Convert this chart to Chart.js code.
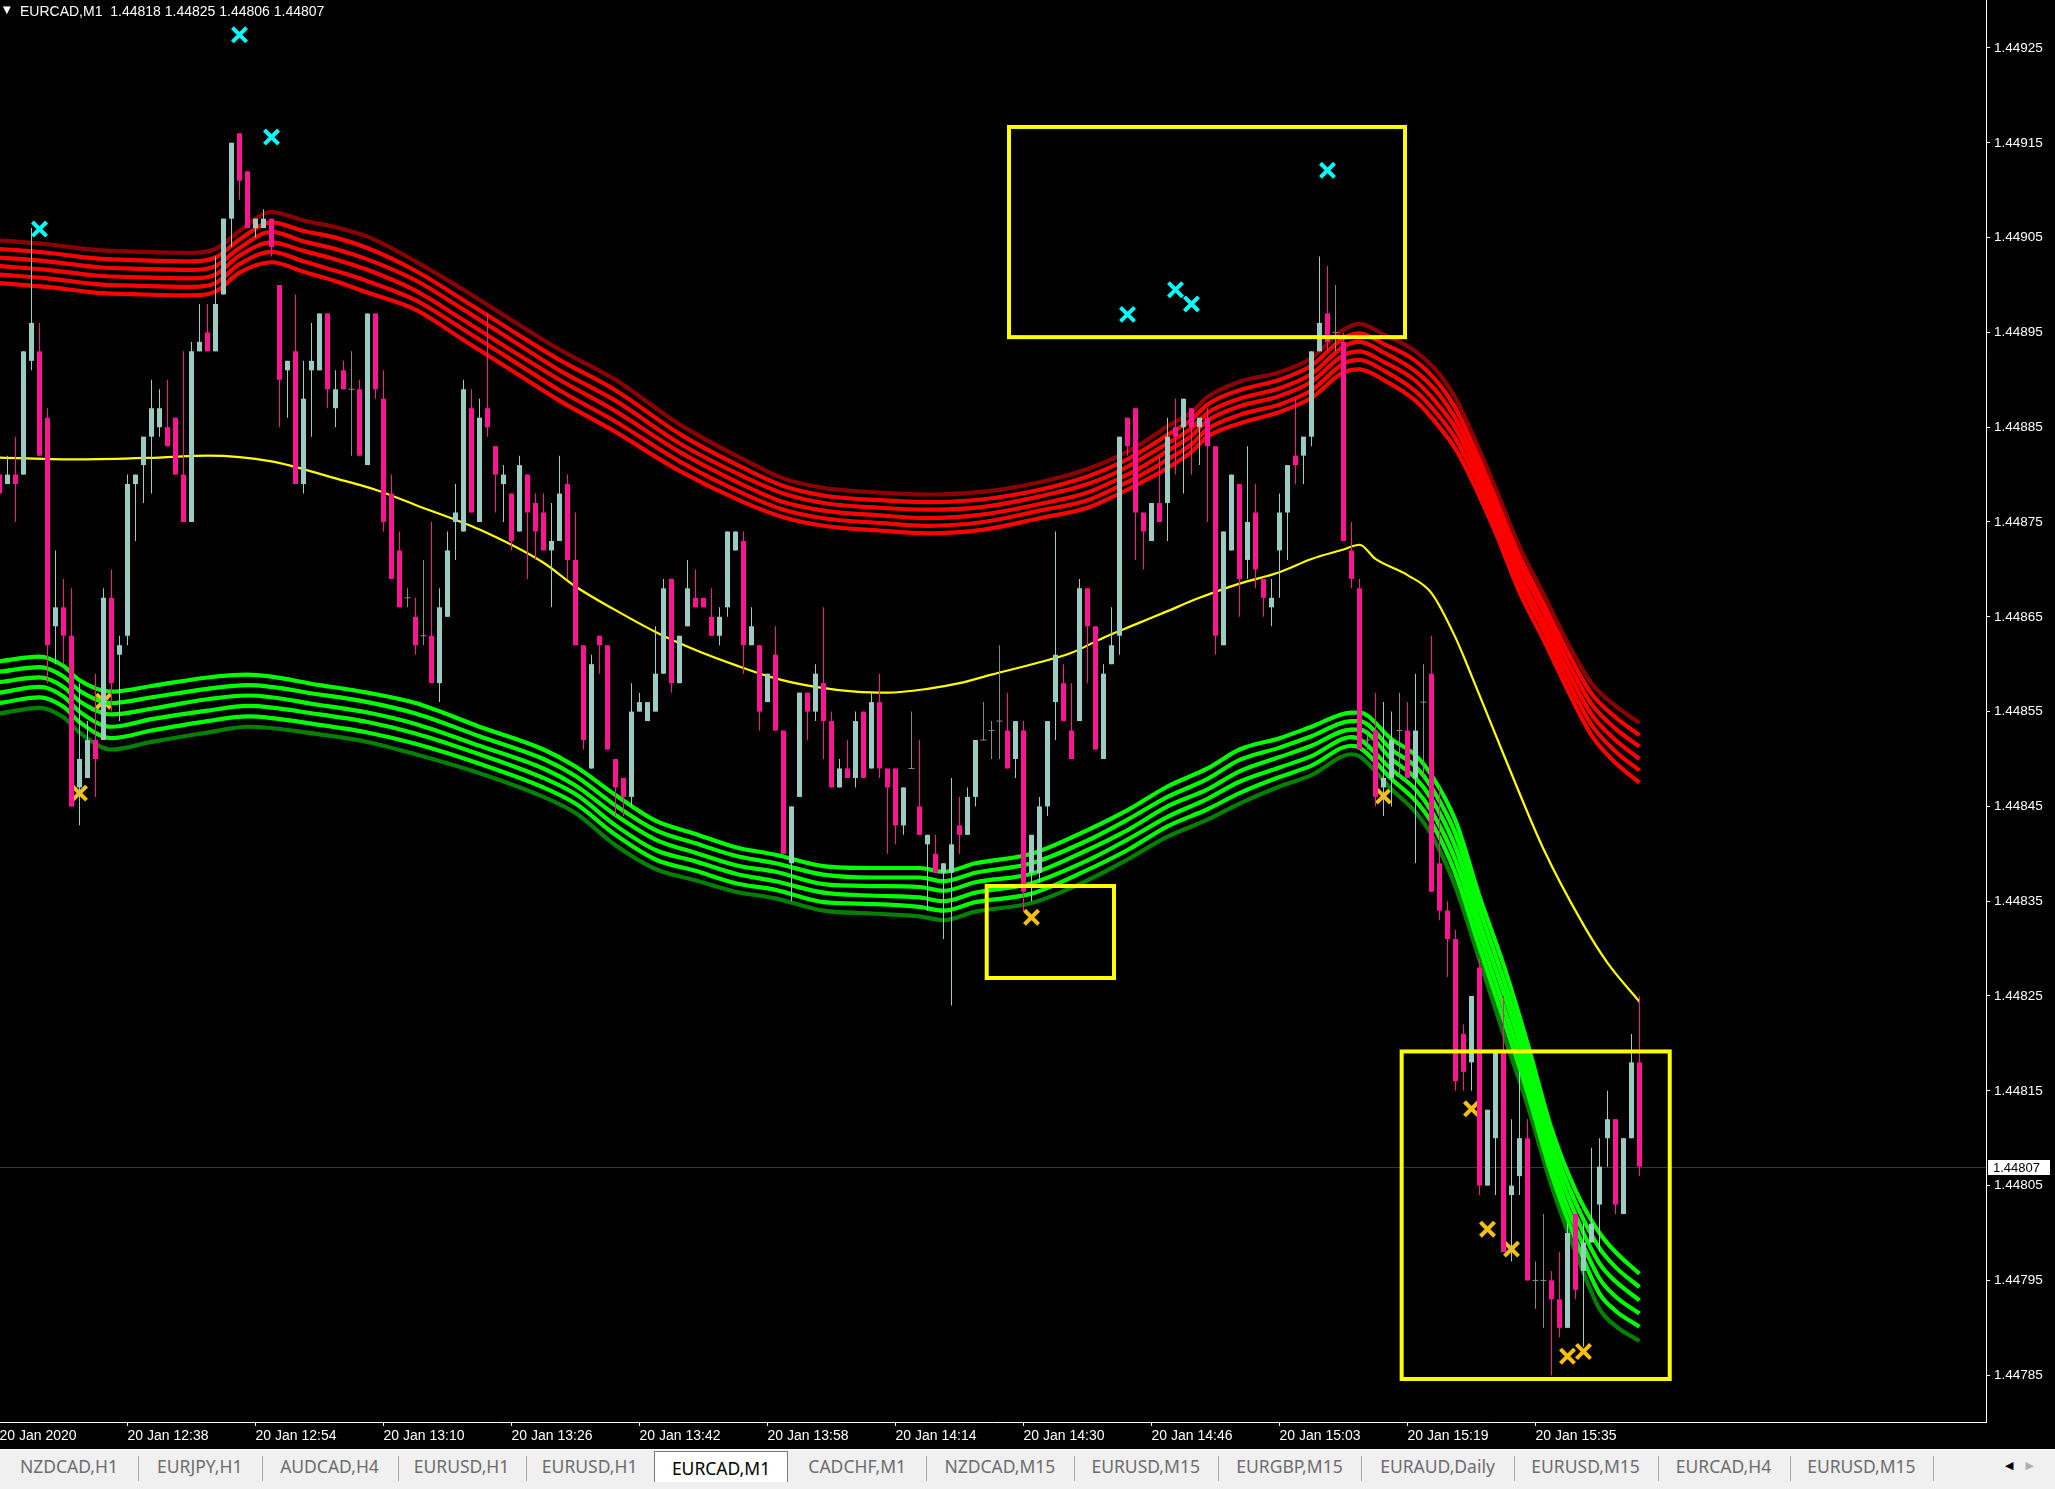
<!DOCTYPE html>
<html>
<head>
<meta charset="utf-8">
<title>EURCAD,M1</title>
<script src="https://cdn.jsdelivr.net/npm/chart.js@4.4.1/dist/chart.umd.min.js"></script>
<style>
  html, body { margin:0; padding:0; background:#000; }
  body { width:2055px; height:1489px; position:relative; overflow:hidden; }
  #chartBox { position:absolute; left:0; top:0; width:2055px; height:1450px; }
  #tri { position:absolute; left:3px; top:4px; color:#fff; font:10px "DejaVu Sans", sans-serif; }
  #hdr { position:absolute; left:20px; top:3px; color:#fff; font:14px "Liberation Sans", Arial, sans-serif; white-space:pre; line-height:17px; }
  #tabs { position:absolute; left:0; top:1449px; width:2055px; height:40px; background:#f0f0f0; border-top:1px solid #ffffff; }
  .tab { position:absolute; top:4px; height:28px; line-height:28px; text-align:center; font:17.5px "Noto Sans", "Open Sans", sans-serif; color:#6d6d6d; white-space:nowrap; }
  .tab.active { top:1px; height:31px; line-height:33px; background:#ffffff; border:1px solid #7c7c7c; border-bottom:none; color:#000; box-sizing:border-box; }
  .sep { position:absolute; top:6px; width:1px; height:25px; background:#a9a9a9; }
  #arrows { position:absolute; right:9px; top:9px; font:11px "DejaVu Sans", sans-serif; color:#000; letter-spacing:12px; }
</style>
</head>
<body>
<div id="chartBox"><canvas id="c" width="2055" height="1450"></canvas></div>
<div id="tri">▼</div>
<div id="hdr"></div>
<div id="tabs"></div>
<script>
// ---------------- DATA ----------------
const symbolLabel = 'EURCAD,M1';
const timeLabels = ['20 Jan 2020','20 Jan 12:38','20 Jan 12:54','20 Jan 13:10','20 Jan 13:26','20 Jan 13:42','20 Jan 13:58','20 Jan 14:14','20 Jan 14:30','20 Jan 14:46','20 Jan 15:03','20 Jan 15:19','20 Jan 15:35'];
const timeTickBars = [0,16,32,48,64,80,96,112,128,144,160,176,192];
const priceTickLabels = ['1.44925','1.44915','1.44905','1.44895','1.44885','1.44875','1.44865','1.44855','1.44845','1.44835','1.44825','1.44815','1.44805','1.44795','1.44785'];

const openP = [
1.44880,1.44879,1.44880,1.44880,1.44892,1.44893,1.44886,1.44864,1.44866,1.44863,
1.44847,1.44848,1.44852,1.44852,1.44867,1.44861,1.44863,1.44879,1.44881,1.44884,
1.44885,1.44885,1.44886,1.44880,1.44875,1.44893,1.44895,1.44893,1.44899,1.44907,
1.44916,1.44912,1.44906,1.44906,1.44907,1.44900,1.44891,1.44893,1.44879,1.44891,
1.44891,1.44897,1.44887,1.44891,1.44889,1.44889,1.44881,1.44897,1.44888,1.44878,
1.44872,1.44867,1.44865,1.44863,1.44863,1.44858,1.44865,1.44875,1.44874,1.44887,
1.44875,1.44887,1.44883,1.44879,1.44878,1.44874,1.44880,1.44877,1.44876,1.44872,
1.44873,1.44879,1.44871,1.44862,1.44849,1.44863,1.44862,1.44850,1.44848,1.44846,
1.44855,1.44854,1.44855,1.44859,1.44869,1.44858,1.44864,1.44867,1.44867,1.44865,
1.44863,1.44866,1.44872,1.44873,1.44862,1.44862,1.44856,1.44861,1.44853,1.44839,
1.44846,1.44857,1.44855,1.44858,1.44854,1.44847,1.44849,1.44848,1.44855,1.44849,
1.44856,1.44849,1.44849,1.44843,1.44849,1.44845,1.44841,1.44840,1.44838,1.44838,
1.44843,1.44842,1.44846,1.44852,1.44853,1.44854,1.44853,1.44850,1.44853,1.44838,
1.44838,1.44845,1.44856,1.44858,1.44853,1.44854,1.44868,1.44864,1.44850,1.44860,
1.44863,1.44886,1.44887,1.44876,1.44873,1.44877,1.44877,1.44885,1.44885,1.44887,
1.44885,1.44886,1.44883,1.44862,1.44872,1.44879,1.44871,1.44876,1.44869,1.44866,
1.44872,1.44876,1.44882,1.44882,1.44884,1.44893,1.44897,1.44895,1.44894,1.44872,
1.44868,1.44852,1.44853,1.44847,1.44848,1.44853,1.44853,1.44848,1.44856,1.44859,
1.44839,1.44834,1.44831,1.44821,1.44818,1.44828,1.44805,1.44810,1.44819,1.44804,
1.44806,1.44810,1.44795,1.44795,1.44795,1.44793,1.44790,1.44802,1.44796,1.44799,
1.44803,1.44810,1.44812,1.44802,1.44810,1.44818];

const highP = [
1.44881,1.44882,1.44884,1.44893,1.44906,1.44896,1.44887,1.44872,1.44869,1.44868,
1.44858,1.44854,1.44859,1.44868,1.44870,1.44863,1.44880,1.44880,1.44884,1.44890,
1.44889,1.44890,1.44886,1.44893,1.44894,1.44898,1.44898,1.44903,1.44907,1.44915,
1.44916,1.44912,1.44907,1.44908,1.44907,1.44900,1.44892,1.44899,1.44892,1.44896,
1.44897,1.44897,1.44891,1.44892,1.44893,1.44890,1.44897,1.44897,1.44891,1.44880,
1.44874,1.44868,1.44867,1.44871,1.44875,1.44868,1.44874,1.44879,1.44890,1.44889,
1.44888,1.44897,1.44883,1.44881,1.44878,1.44882,1.44880,1.44878,1.44878,1.44877,
1.44882,1.44880,1.44876,1.44862,1.44861,1.44863,1.44862,1.44850,1.44848,1.44858,
1.44857,1.44856,1.44864,1.44869,1.44869,1.44863,1.44871,1.44870,1.44867,1.44868,
1.44866,1.44874,1.44874,1.44874,1.44866,1.44862,1.44859,1.44864,1.44853,1.44845,
1.44857,1.44857,1.44860,1.44866,1.44855,1.44850,1.44852,1.44855,1.44855,1.44857,
1.44859,1.44849,1.44849,1.44847,1.44855,1.44852,1.44842,1.44842,1.44839,1.44848,
1.44846,1.44847,1.44852,1.44856,1.44854,1.44862,1.44857,1.44854,1.44854,1.44842,
1.44846,1.44854,1.44874,1.44860,1.44858,1.44869,1.44868,1.44864,1.44860,1.44866,
1.44884,1.44886,1.44887,1.44876,1.44877,1.44882,1.44886,1.44888,1.44888,1.44887,
1.44886,1.44887,1.44883,1.44874,1.44880,1.44879,1.44883,1.44879,1.44869,1.44869,
1.44878,1.44881,1.44888,1.44884,1.44893,1.44903,1.44902,1.44900,1.44895,1.44875,
1.44869,1.44853,1.44857,1.44856,1.44855,1.44857,1.44856,1.44859,1.44860,1.44863,
1.44847,1.44835,1.44832,1.44822,1.44825,1.44829,1.44813,1.44819,1.44825,1.44812,
1.44817,1.44812,1.44797,1.44802,1.44796,1.44798,1.44801,1.44802,1.44801,1.44809,
1.44810,1.44815,1.44812,1.44810,1.44821,1.44825];

const lowP = [
1.44877,1.44879,1.44875,1.44880,1.44891,1.44882,1.44858,1.44860,1.44860,1.44845,
1.44843,1.44848,1.44846,1.44852,1.44855,1.44854,1.44862,1.44873,1.44877,1.44878,
1.44884,1.44883,1.44880,1.44875,1.44875,1.44893,1.44893,1.44893,1.44899,1.44904,
1.44909,1.44906,1.44905,1.44906,1.44903,1.44885,1.44886,1.44879,1.44878,1.44884,
1.44891,1.44887,1.44885,1.44889,1.44882,1.44882,1.44881,1.44888,1.44874,1.44869,
1.44866,1.44866,1.44861,1.44862,1.44858,1.44856,1.44865,1.44871,1.44874,1.44876,
1.44875,1.44884,1.44876,1.44875,1.44872,1.44874,1.44869,1.44871,1.44872,1.44866,
1.44873,1.44869,1.44862,1.44851,1.44849,1.44859,1.44851,1.44844,1.44844,1.44845,
1.44855,1.44854,1.44855,1.44859,1.44857,1.44858,1.44864,1.44866,1.44866,1.44863,
1.44862,1.44865,1.44872,1.44859,1.44862,1.44853,1.44856,1.44853,1.44840,1.44835,
1.44846,1.44852,1.44854,1.44850,1.44847,1.44847,1.44848,1.44847,1.44848,1.44849,
1.44848,1.44840,1.44841,1.44842,1.44849,1.44842,1.44834,1.44838,1.44831,1.44824,
1.44840,1.44842,1.44845,1.44852,1.44850,1.44850,1.44849,1.44848,1.44834,1.44835,
1.44837,1.44844,1.44852,1.44854,1.44850,1.44854,1.44858,1.44851,1.44850,1.44860,
1.44861,1.44882,1.44871,1.44870,1.44873,1.44875,1.44873,1.44880,1.44878,1.44880,
1.44881,1.44875,1.44861,1.44862,1.44872,1.44865,1.44869,1.44868,1.44865,1.44864,
1.44867,1.44871,1.44879,1.44879,1.44883,1.44893,1.44893,1.44893,1.44873,1.44868,
1.44851,1.44851,1.44845,1.44844,1.44845,1.44848,1.44848,1.44839,1.44848,1.44836,
1.44833,1.44827,1.44815,1.44815,1.44815,1.44804,1.44805,1.44804,1.44798,1.44797,
1.44804,1.44795,1.44792,1.44790,1.44785,1.44789,1.44790,1.44793,1.44788,1.44799,
1.44798,1.44807,1.44802,1.44802,1.44810,1.44806];

const closeP = [
1.44878,1.44880,1.44879,1.44893,1.44896,1.44882,1.44862,1.44866,1.44863,1.44845,
1.44850,1.44852,1.44850,1.44867,1.44858,1.44862,1.44879,1.44880,1.44884,1.44887,
1.44887,1.44883,1.44880,1.44875,1.44893,1.44894,1.44893,1.44898,1.44907,1.44915,
1.44911,1.44906,1.44907,1.44907,1.44904,1.44890,1.44892,1.44879,1.44888,1.44892,
1.44897,1.44889,1.44889,1.44889,1.44889,1.44882,1.44897,1.44889,1.44875,1.44869,
1.44866,1.44867,1.44862,1.44863,1.44858,1.44866,1.44872,1.44876,1.44889,1.44876,
1.44886,1.44885,1.44880,1.44880,1.44873,1.44881,1.44876,1.44874,1.44872,1.44873,
1.44878,1.44871,1.44862,1.44852,1.44860,1.44862,1.44851,1.44847,1.44846,1.44855,
1.44856,1.44856,1.44859,1.44868,1.44858,1.44863,1.44868,1.44866,1.44866,1.44863,
1.44865,1.44874,1.44874,1.44862,1.44864,1.44855,1.44859,1.44853,1.44840,1.44845,
1.44857,1.44855,1.44859,1.44854,1.44847,1.44849,1.44848,1.44854,1.44848,1.44856,
1.44849,1.44847,1.44843,1.44847,1.44849,1.44842,1.44842,1.44838,1.44839,1.44841,
1.44842,1.44846,1.44852,1.44852,1.44853,1.44854,1.44849,1.44854,1.44836,1.44842,
1.44845,1.44854,1.44861,1.44854,1.44850,1.44868,1.44864,1.44851,1.44859,1.44862,
1.44884,1.44883,1.44876,1.44874,1.44877,1.44875,1.44884,1.44884,1.44888,1.44885,
1.44886,1.44883,1.44863,1.44874,1.44880,1.44869,1.44875,1.44870,1.44867,1.44867,
1.44876,1.44881,1.44881,1.44884,1.44893,1.44896,1.44894,1.44895,1.44873,1.44869,
1.44851,1.44852,1.44846,1.44848,1.44852,1.44853,1.44848,1.44853,1.44856,1.44836,
1.44834,1.44831,1.44816,1.44817,1.44825,1.44805,1.44813,1.44819,1.44798,1.44805,
1.44810,1.44795,1.44795,1.44795,1.44793,1.44790,1.44800,1.44794,1.44799,1.44801,
1.44807,1.44812,1.44803,1.44810,1.44818,1.44807];

// moving-average line (yellow)
const yellowBars = [0,10,20,26,34,42,47,52,60,68,72,77,82,87,92,97,102,107,111,116,120,124,130,134,138,142,146,150,155,160,164,168,170,172,176,179,182,184,188,193,198,201,205];
const yellowVals = [1.448818,1.448816,1.448818,1.448820,1.448814,1.448796,1.448784,1.448768,1.448742,1.448707,1.448682,1.448657,1.448634,1.448615,1.448599,1.448585,1.448576,1.448571,1.448570,1.448574,1.448580,1.448589,1.448602,1.448612,1.448628,1.448642,1.448656,1.448670,1.448685,1.448697,1.448711,1.448721,1.448726,1.448711,1.448694,1.448675,1.448628,1.448588,1.448505,1.448405,1.448325,1.448285,1.448244];

// upper (red) band lines, top to bottom
const redBars = [0,6,12,18,24,27,30,34,38,42,46,52,58,64,70,77,85,93,98,103,110,116,123,130,136,140,143,146,149,151,155,160,164,168,170,173,177,180,182,184,187,190,193,196,199,202,205];
const redLine0 = [1.449047,1.449043,1.449037,1.449035,1.449034,1.449038,1.449057,1.449077,1.449068,1.449061,1.449051,1.449025,1.448995,1.448963,1.448932,1.448900,1.448853,1.448816,1.448796,1.448786,1.448781,1.448779,1.448782,1.448792,1.448806,1.448820,1.448834,1.448851,1.448866,1.448882,1.448898,1.448908,1.448923,1.448953,1.448959,1.448948,1.448930,1.448906,1.448881,1.448845,1.448786,1.448724,1.448674,1.448623,1.448580,1.448556,1.448538];
const redLine1 = [1.449038,1.449034,1.449028,1.449026,1.449025,1.449029,1.449048,1.449066,1.449057,1.449050,1.449039,1.449015,1.448984,1.448952,1.448921,1.448889,1.448843,1.448807,1.448788,1.448778,1.448773,1.448771,1.448774,1.448784,1.448798,1.448812,1.448826,1.448842,1.448858,1.448874,1.448889,1.448900,1.448915,1.448944,1.448949,1.448938,1.448920,1.448895,1.448870,1.448835,1.448777,1.448714,1.448664,1.448613,1.448569,1.448544,1.448525];
const redLine2 = [1.449029,1.449025,1.449019,1.449017,1.449016,1.449020,1.449039,1.449056,1.449046,1.449038,1.449027,1.449005,1.448974,1.448942,1.448910,1.448878,1.448833,1.448798,1.448780,1.448770,1.448765,1.448763,1.448766,1.448777,1.448790,1.448804,1.448818,1.448833,1.448849,1.448865,1.448880,1.448891,1.448906,1.448935,1.448940,1.448929,1.448909,1.448884,1.448859,1.448825,1.448767,1.448705,1.448655,1.448603,1.448558,1.448532,1.448513];
const redLine3 = [1.449020,1.449016,1.449010,1.449008,1.449007,1.449011,1.449031,1.449045,1.449036,1.449027,1.449016,1.448994,1.448963,1.448931,1.448900,1.448867,1.448824,1.448789,1.448771,1.448762,1.448757,1.448754,1.448758,1.448769,1.448781,1.448796,1.448809,1.448825,1.448841,1.448857,1.448872,1.448883,1.448898,1.448926,1.448930,1.448919,1.448899,1.448872,1.448849,1.448815,1.448758,1.448695,1.448645,1.448593,1.448547,1.448520,1.448500];
const redLine4 = [1.449011,1.449007,1.449001,1.448999,1.448998,1.449002,1.449022,1.449035,1.449025,1.449015,1.449004,1.448984,1.448953,1.448921,1.448889,1.448856,1.448814,1.448780,1.448763,1.448754,1.448749,1.448746,1.448750,1.448762,1.448773,1.448788,1.448801,1.448816,1.448832,1.448848,1.448863,1.448874,1.448889,1.448917,1.448921,1.448910,1.448888,1.448861,1.448838,1.448805,1.448748,1.448686,1.448636,1.448583,1.448536,1.448508,1.448488];
const redLine5 = [1.449002,1.448998,1.448992,1.448990,1.448989,1.448993,1.449013,1.449024,1.449014,1.449004,1.448992,1.448974,1.448942,1.448910,1.448878,1.448845,1.448804,1.448771,1.448755,1.448746,1.448741,1.448738,1.448742,1.448754,1.448765,1.448780,1.448793,1.448807,1.448824,1.448840,1.448854,1.448866,1.448881,1.448908,1.448911,1.448900,1.448878,1.448850,1.448827,1.448795,1.448739,1.448676,1.448626,1.448573,1.448525,1.448496,1.448475];

// lower (green) band lines, top to bottom
const greenBars = [0,5,8,10,14,19,26,31,40,46,52,60,68,72,77,82,87,92,97,103,109,115,118,122,129,136,141,146,151,155,160,164,169,170,174,177,179,182,185,188,191,194,197,200,202,205];
const greenLine0 = [1.448603,1.448608,1.448598,1.448583,1.448571,1.448577,1.448586,1.448589,1.448578,1.448570,1.448559,1.448534,1.448510,1.448492,1.448462,1.448435,1.448421,1.448407,1.448399,1.448387,1.448385,1.448385,1.448381,1.448390,1.448400,1.448425,1.448446,1.448471,1.448490,1.448510,1.448522,1.448534,1.448549,1.448549,1.448521,1.448504,1.448483,1.448435,1.448355,1.448283,1.448200,1.448110,1.448045,1.448000,1.447980,1.447957];
const greenLine1 = [1.448592,1.448597,1.448587,1.448572,1.448559,1.448565,1.448574,1.448578,1.448568,1.448560,1.448548,1.448524,1.448500,1.448482,1.448451,1.448425,1.448411,1.448398,1.448390,1.448378,1.448375,1.448375,1.448371,1.448380,1.448390,1.448414,1.448436,1.448460,1.448479,1.448499,1.448512,1.448524,1.448540,1.448540,1.448510,1.448492,1.448470,1.448421,1.448342,1.448268,1.448187,1.448098,1.448032,1.447984,1.447964,1.447943];
const greenLine2 = [1.448581,1.448586,1.448576,1.448561,1.448547,1.448553,1.448563,1.448567,1.448557,1.448549,1.448537,1.448514,1.448490,1.448472,1.448441,1.448415,1.448401,1.448388,1.448381,1.448368,1.448366,1.448365,1.448361,1.448370,1.448379,1.448404,1.448425,1.448450,1.448468,1.448487,1.448502,1.448514,1.448531,1.448531,1.448500,1.448480,1.448458,1.448407,1.448328,1.448254,1.448174,1.448086,1.448019,1.447968,1.447949,1.447929];
const greenLine3 = [1.448570,1.448576,1.448566,1.448550,1.448534,1.448542,1.448551,1.448556,1.448547,1.448539,1.448527,1.448505,1.448480,1.448463,1.448430,1.448404,1.448392,1.448379,1.448371,1.448359,1.448356,1.448354,1.448350,1.448359,1.448369,1.448393,1.448415,1.448439,1.448458,1.448476,1.448491,1.448503,1.448523,1.448521,1.448489,1.448468,1.448445,1.448393,1.448315,1.448239,1.448161,1.448074,1.448006,1.447952,1.447933,1.447915];
const greenLine4 = [1.448559,1.448565,1.448555,1.448539,1.448522,1.448530,1.448540,1.448545,1.448536,1.448528,1.448516,1.448495,1.448470,1.448453,1.448420,1.448394,1.448382,1.448369,1.448362,1.448349,1.448347,1.448344,1.448340,1.448349,1.448358,1.448383,1.448404,1.448429,1.448447,1.448464,1.448481,1.448493,1.448514,1.448512,1.448479,1.448456,1.448433,1.448379,1.448301,1.448225,1.448148,1.448062,1.447993,1.447936,1.447918,1.447901];
const greenLine5 = [1.448548,1.448554,1.448544,1.448528,1.448510,1.448518,1.448528,1.448534,1.448526,1.448518,1.448505,1.448485,1.448460,1.448443,1.448409,1.448384,1.448372,1.448360,1.448353,1.448340,1.448337,1.448334,1.448330,1.448339,1.448348,1.448372,1.448394,1.448418,1.448436,1.448453,1.448471,1.448483,1.448505,1.448503,1.448468,1.448444,1.448420,1.448365,1.448288,1.448210,1.448135,1.448050,1.447980,1.447920,1.447902,1.447886];

// signal markers
const cyanBars = [5,30,34,141,147,149,166];
const cyanPrices = [1.449059,1.449264,1.449156,1.448969,1.448995,1.448980,1.449121];
const orangeBars = [10,13,129,173,184,186,189,196,198];
const orangePrices = [1.448464,1.448561,1.448333,1.448461,1.448131,1.448004,1.447983,1.447870,1.447875];

// highlight boxes (bar index / price)
const boxFromBar = [126.19,123.40,175.27];
const boxToBar   = [175.69,139.31,208.78];
const boxTopPrice    = [1.4491667,1.448366,1.4481915];
const boxBottomPrice = [1.448945,1.448269,1.447846];

// terminal tabs
const tabNames = ['NZDCAD,H1','EURJPY,H1','AUDCAD,H4','EURUSD,H1','EURUSD,H1','EURCAD,M1','CADCHF,M1','NZDCAD,M15','EURUSD,M15','EURGBP,M15','EURAUD,Daily','EURUSD,M15','EURCAD,H4','EURUSD,M15'];
const activeTab = 5;

// ---------------- LAYOUT / STYLE ----------------
const tabEdges = [0,138,261.5,397.5,525.6,653.7,788.4,926,1073.8,1217.6,1361.4,1513.7,1657.5,1789.5,1933.3];
const BULL = '#9ccbc4', BEAR = '#ff1493', DOJI = '#8a8a8a';
const X_MIN = 0.0625, X_MAX = 0.0625 + 1986 / 8;
const Y_MIN = 1.44780063, Y_MAX = 1.44930063;
const BAND_W = 4.2;

// header
const nLast = closeP.length - 1;
document.getElementById('hdr').textContent = symbolLabel + '  ' + [openP[nLast], highP[nLast], lowP[nLast], closeP[nLast]].map(v => v.toFixed(5)).join(' ');

// tabs
(function () {
  const bar = document.getElementById('tabs');
  for (let i = 0; i < tabNames.length; i++) {
    const d = document.createElement('div');
    d.className = 'tab' + (i === activeTab ? ' active' : '');
    d.style.left = tabEdges[i] + 'px';
    d.style.width = (tabEdges[i + 1] - tabEdges[i]) + 'px';
    d.textContent = tabNames[i];
    bar.appendChild(d);
  }
  for (let i = 1; i < tabEdges.length; i++) {
    if (i === activeTab || i === activeTab + 1) continue;
    const s = document.createElement('div');
    s.className = 'sep';
    s.style.left = tabEdges[i] + 'px';
    bar.appendChild(s);
  }
  const a = document.createElement('div');
  a.id = 'arrows';
  a.innerHTML = '◀<span style="color:#b0b0b0">▶</span>';
  bar.appendChild(a);
})();

// ---------------- DATASETS ----------------
const idx = openP.map((_, i) => i);
const candleColor = idx.map(i => closeP[i] > openP[i] ? BULL : (closeP[i] < openP[i] ? BEAR : DOJI));
const wickData = idx.map(i => ({ x: i, y: [lowP[i], highP[i]] }));
const bodyIdx = idx.filter(i => closeP[i] !== openP[i]);
const bodyData = bodyIdx.map(i => ({ x: i, y: [openP[i], closeP[i]] }));
const bodyColor = bodyIdx.map(i => candleColor[i]);
const dojiData = idx.filter(i => closeP[i] === openP[i]).map(i => ({ x: i, y: openP[i] }));
const pts = (bars, vals) => bars.map((b, k) => ({ x: b, y: vals[k] }));
const lineDs = (bars, vals, color, width, order) => ({
  type: 'line', data: pts(bars, vals), borderColor: color, borderWidth: width,
  pointRadius: 0, fill: false, cubicInterpolationMode: 'monotone', order: order
});

const datasets = [
  { type: 'bar', data: bodyData, backgroundColor: bodyColor, barThickness: 5, grouped: false, borderWidth: 0, inflateAmount: 0, order: 1 },
  { type: 'bar', data: wickData, backgroundColor: candleColor, barThickness: 1, grouped: false, borderWidth: 0, inflateAmount: 0, order: 2 },
  { type: 'scatter', data: dojiData, pointStyle: 'line', pointRadius: 3, pointBorderColor: DOJI, borderColor: DOJI, pointBorderWidth: 1, order: 0 },
  lineDs(redBars, redLine0, '#8b0000', BAND_W, 4),
  lineDs(redBars, redLine1, '#ff0000', BAND_W, 4),
  lineDs(redBars, redLine2, '#ff0000', BAND_W, 4),
  lineDs(redBars, redLine3, '#ff0000', BAND_W, 4),
  lineDs(redBars, redLine4, '#ff0000', BAND_W, 4),
  lineDs(redBars, redLine5, '#ff0000', BAND_W, 4),
  lineDs(greenBars, greenLine0, '#00ff00', BAND_W, 4),
  lineDs(greenBars, greenLine1, '#00ff00', BAND_W, 4),
  lineDs(greenBars, greenLine2, '#00ff00', BAND_W, 4),
  lineDs(greenBars, greenLine3, '#00ff00', BAND_W, 4),
  lineDs(greenBars, greenLine4, '#00ff00', BAND_W, 4),
  lineDs(greenBars, greenLine5, '#008000', BAND_W, 4),
  lineDs(yellowBars, yellowVals, '#ffff00', 2.2, 3),
  { type: 'scatter', data: pts(cyanBars, cyanPrices), pointStyle: 'crossRot', pointRadius: 10, pointBorderColor: '#00ffff', borderColor: '#00ffff', pointBorderWidth: 4, order: 6 },
  { type: 'scatter', data: pts(orangeBars, orangePrices), pointStyle: 'crossRot', pointRadius: 10, pointBorderColor: '#f8c00c', borderColor: '#f8c00c', pointBorderWidth: 4, order: 6 }
];

// ---------------- PLUGINS ----------------
const overlayPlugin = {
  id: 'mtOverlay',
  beforeDatasetsDraw(chart) {
    const { ctx, chartArea, scales: { y } } = chart;
    const py = Math.round(y.getPixelForValue(closeP[nLast])) + 0.5;
    ctx.save();
    ctx.strokeStyle = '#2a3e3e';
    ctx.lineWidth = 1;
    ctx.beginPath();
    ctx.moveTo(chartArea.left, py);
    ctx.lineTo(chartArea.right, py);
    ctx.stroke();
    ctx.restore();
  },
  afterDatasetsDraw(chart) {
    const { ctx, scales: { x, y } } = chart;
    ctx.save();
    ctx.strokeStyle = '#ffff00';
    ctx.lineWidth = 4;
    for (let k = 0; k < boxFromBar.length; k++) {
      const x0 = x.getPixelForValue(boxFromBar[k]);
      const x1 = x.getPixelForValue(boxToBar[k]);
      const y0 = y.getPixelForValue(boxTopPrice[k]);
      const y1 = y.getPixelForValue(boxBottomPrice[k]);
      ctx.strokeRect(x0, y0, x1 - x0, y1 - y0);
    }
    ctx.restore();
  },
  afterDraw(chart) {
    const { ctx, chartArea, scales: { y } } = chart;
    const v = closeP[nLast];
    const py = Math.round(y.getPixelForValue(v));
    ctx.save();
    ctx.fillStyle = '#ffffff';
    ctx.fillRect(chartArea.right + 2, py - 7, 62, 15);
    ctx.fillStyle = '#000000';
    ctx.font = '13px "Liberation Sans", Arial, sans-serif';
    ctx.textBaseline = 'middle';
    ctx.textAlign = 'left';
    ctx.fillText(v.toFixed(5), chartArea.right + 7, py + 1);
    ctx.restore();
  }
};

// ---------------- CHART ----------------
new Chart(document.getElementById('c'), {
  type: 'bar',
  data: { datasets: datasets },
  options: {
    responsive: false,
    animation: false,
    devicePixelRatio: 1,
    layout: { autoPadding: false, padding: 0 },
    events: [],
    plugins: { legend: { display: false }, tooltip: { enabled: false }, title: { display: false } },
    scales: {
      x: {
        type: 'linear', position: 'bottom', min: X_MIN, max: X_MAX, offset: false, bounds: 'data',
        grid: { display: true, drawOnChartArea: false, drawTicks: true, tickLength: 4, color: '#ffffff', offset: false },
        border: { display: true, color: '#ffffff', width: 1 },
        ticks: {
          align: 'start', padding: 2, color: '#ffffff', maxRotation: 0, autoSkip: false,
          font: { family: '"Liberation Sans", Arial, sans-serif', size: 14 },
          callback: (v, i) => timeLabels[i]
        },
        afterBuildTicks: (s) => { s.ticks = timeTickBars.map(v => ({ value: v })); },
        afterFit: (s) => { s.height = 28; s.paddingLeft = 0; s.paddingRight = 0; }
      },
      y: {
        type: 'linear', position: 'right', min: Y_MIN, max: Y_MAX, bounds: 'data',
        grid: { display: true, drawOnChartArea: false, drawTicks: true, tickLength: 4, color: '#ffffff' },
        border: { display: true, color: '#ffffff', width: 1 },
        ticks: {
          padding: 4, color: '#ffffff',
          font: { family: '"Liberation Sans", Arial, sans-serif', size: 13.5 },
          callback: (v, i) => priceTickLabels[i]
        },
        afterBuildTicks: (s) => { s.ticks = priceTickLabels.map(t => ({ value: parseFloat(t) })); },
        afterFit: (s) => { s.width = 69; s.paddingTop = 0; s.paddingBottom = 0; }
      }
    }
  },
  plugins: [overlayPlugin]
});
</script>
</body>
</html>
